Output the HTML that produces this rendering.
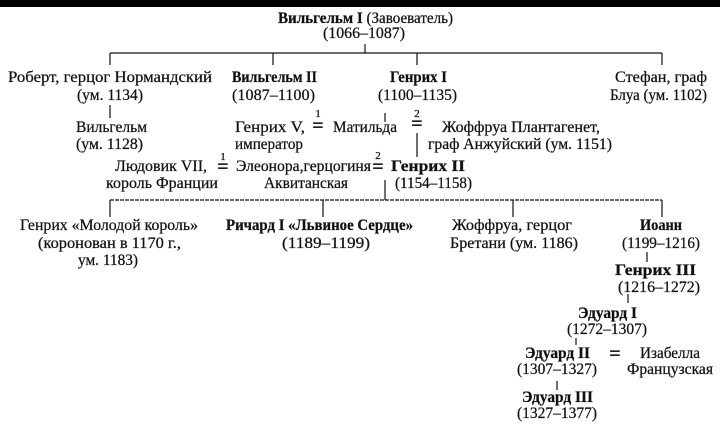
<!DOCTYPE html>
<html><head><meta charset="utf-8"><style>
html,body{margin:0;padding:0;background:#fff;}
svg{display:block;}
text{font-family:"Liberation Serif",serif;font-size:16px;fill:#111;stroke:#111;stroke-width:0.25;}
.b{font-weight:bold;}
.s{font-size:11px;}
.e{font-size:20px;font-weight:bold;}
line{stroke:#111;stroke-width:1.2;}
</style></head><body>
<svg width="720" height="445" viewBox="0 0 720 445" xmlns="http://www.w3.org/2000/svg">
<rect x="0" y="0" width="720" height="445" fill="#fff"/>
<rect x="0" y="0" width="720" height="7" fill="#000"/>

<text x="278" y="23" textLength="175" lengthAdjust="spacingAndGlyphs"><tspan class="b">Вильгельм I</tspan> (Завоеватель)</text>
<text x="323" y="38" textLength="82" lengthAdjust="spacingAndGlyphs">(1066–1087)</text>
<line x1="365" y1="44" x2="365" y2="53"/>
<line x1="110" y1="53" x2="662" y2="53"/>
<line x1="110" y1="53" x2="110" y2="65"/>
<line x1="273" y1="53" x2="273" y2="65"/>
<line x1="417" y1="53" x2="417" y2="65"/>
<line x1="662" y1="53" x2="662" y2="65"/>

<text x="8" y="82" textLength="204" lengthAdjust="spacingAndGlyphs">Роберт, герцог  Нормандский</text>
<text x="77" y="100" textLength="66" lengthAdjust="spacingAndGlyphs">(ум. 1134)</text>
<text class="b" x="232" y="82" textLength="85" lengthAdjust="spacingAndGlyphs">Вильгельм II</text>
<text x="232" y="100" textLength="83" lengthAdjust="spacingAndGlyphs">(1087–1100)</text>
<text class="b" x="390" y="82" textLength="57" lengthAdjust="spacingAndGlyphs">Генрих I</text>
<text x="378" y="100" textLength="79" lengthAdjust="spacingAndGlyphs">(1100–1135)</text>
<text x="615" y="82" textLength="92" lengthAdjust="spacingAndGlyphs">Стефан, граф</text>
<text x="610" y="100" textLength="97" lengthAdjust="spacingAndGlyphs">Блуа (ум. 1102)</text>

<line x1="110" y1="105" x2="110" y2="118"/>
<line x1="385" y1="113" x2="385" y2="122"/>

<text x="76" y="132" textLength="71" lengthAdjust="spacingAndGlyphs">Вильгельм</text>
<text x="76" y="149" textLength="67" lengthAdjust="spacingAndGlyphs">(ум. 1128)</text>
<text x="235" y="132" textLength="70" lengthAdjust="spacingAndGlyphs">Генрих V,</text>
<text x="235" y="149" textLength="68" lengthAdjust="spacingAndGlyphs">император</text>
<text class="s" x="318" y="117" text-anchor="middle">1</text>
<text class="e" x="318" y="132" text-anchor="middle">=</text>
<text x="333" y="132" textLength="64" lengthAdjust="spacingAndGlyphs">Матильда</text>
<text class="s" x="417" y="117" text-anchor="middle">2</text>
<text class="e" x="417" y="130" text-anchor="middle">=</text>
<text x="442" y="132" textLength="158" lengthAdjust="spacingAndGlyphs">Жоффруа Плантагенет,</text>
<text x="428" y="149" textLength="184" lengthAdjust="spacingAndGlyphs">граф Анжуйский (ум. 1151)</text>
<line x1="417" y1="133" x2="417" y2="157"/>

<text x="115" y="171" textLength="92" lengthAdjust="spacingAndGlyphs">Людовик VII,</text>
<text x="106" y="188" textLength="112" lengthAdjust="spacingAndGlyphs">король Франции</text>
<text class="s" x="223" y="160" text-anchor="middle">1</text>
<text class="e" x="223" y="173" text-anchor="middle">=</text>
<text x="236" y="171" textLength="135" lengthAdjust="spacingAndGlyphs">Элеонора,герцогиня</text>
<text x="264" y="188" textLength="84" lengthAdjust="spacingAndGlyphs">Аквитанская</text>
<text class="s" x="378" y="159" text-anchor="middle">2</text>
<text class="e" x="378" y="173" text-anchor="middle">=</text>
<text class="b" x="391" y="171" textLength="74" lengthAdjust="spacingAndGlyphs">Генрих II</text>
<text x="395" y="188" textLength="77" lengthAdjust="spacingAndGlyphs">(1154–1158)</text>
<line x1="385" y1="180" x2="385" y2="200"/>

<line x1="110" y1="200" x2="662" y2="200" stroke-dasharray="4 1"/>
<line x1="110" y1="200" x2="110" y2="217"/>
<line x1="323" y1="200" x2="323" y2="217"/>
<line x1="513" y1="200" x2="513" y2="217"/>
<line x1="662" y1="200" x2="662" y2="217"/>

<text x="20" y="230" textLength="178" lengthAdjust="spacingAndGlyphs">Генрих «Молодой король»</text>
<text x="38" y="248" textLength="143" lengthAdjust="spacingAndGlyphs">(коронован в 1170 г.,</text>
<text x="78" y="265" textLength="60" lengthAdjust="spacingAndGlyphs">ум. 1183)</text>
<text class="b" x="226" y="230" textLength="187" lengthAdjust="spacingAndGlyphs">Ричард I «Львиное Сердце»</text>
<text x="282" y="248" textLength="88" lengthAdjust="spacingAndGlyphs">(1189–1199)</text>
<text x="452" y="230" textLength="120" lengthAdjust="spacingAndGlyphs">Жоффруа, герцог</text>
<text x="450" y="248" textLength="128" lengthAdjust="spacingAndGlyphs">Бретани (ум. 1186)</text>
<text class="b" x="640" y="230" textLength="42" lengthAdjust="spacingAndGlyphs">Иоанн</text>
<text x="622" y="248" textLength="78" lengthAdjust="spacingAndGlyphs">(1199–1216)</text>
<line x1="647" y1="252" x2="647" y2="262"/>
<text class="b" x="615" y="275" textLength="81" lengthAdjust="spacingAndGlyphs">Генрих III</text>
<text x="618" y="292" textLength="82" lengthAdjust="spacingAndGlyphs">(1216–1272)</text>
<line x1="628" y1="294" x2="628" y2="303"/>
<text class="b" x="578" y="318" textLength="59" lengthAdjust="spacingAndGlyphs">Эдуард I</text>
<text x="567" y="334" textLength="80" lengthAdjust="spacingAndGlyphs">(1272–1307)</text>
<line x1="576" y1="338" x2="576" y2="345"/>
<text class="b" x="525" y="358" textLength="65" lengthAdjust="spacingAndGlyphs">Эдуард II</text>
<text x="517" y="374" textLength="80" lengthAdjust="spacingAndGlyphs">(1307–1327)</text>
<text class="e" x="615" y="360" text-anchor="middle">=</text>
<text x="640" y="358" textLength="60" lengthAdjust="spacingAndGlyphs">Изабелла</text>
<text x="627" y="374" textLength="86" lengthAdjust="spacingAndGlyphs">Французская</text>
<line x1="557" y1="381" x2="557" y2="390"/>
<text class="b" x="522" y="402" textLength="71" lengthAdjust="spacingAndGlyphs">Эдуард III</text>
<text x="517" y="418" textLength="80" lengthAdjust="spacingAndGlyphs">(1327–1377)</text>
</svg>
</body></html>
